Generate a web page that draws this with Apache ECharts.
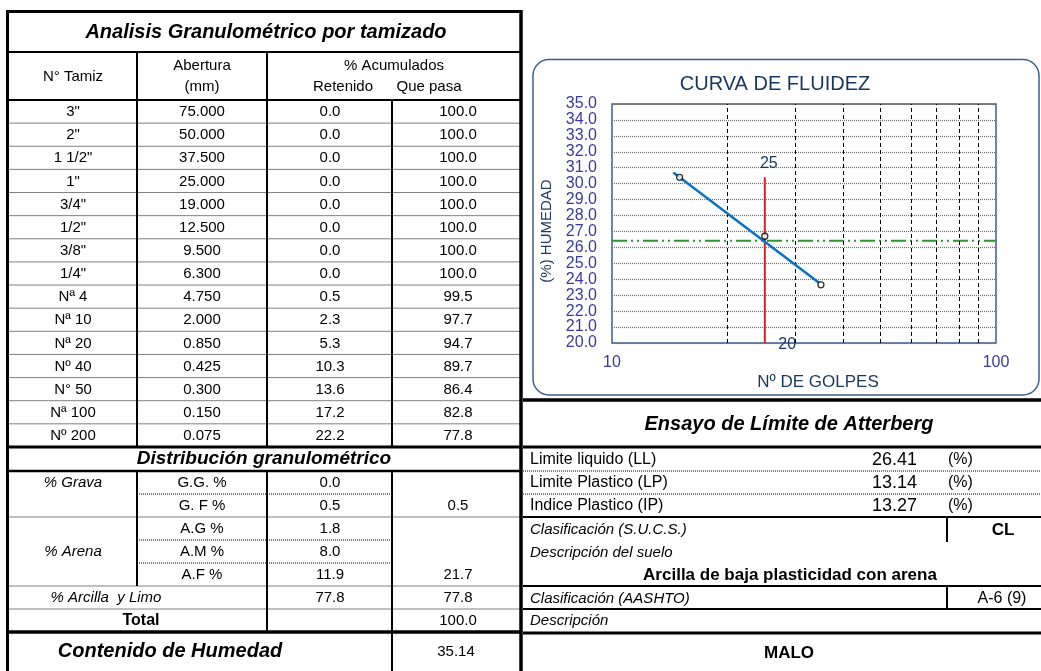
<!DOCTYPE html>
<html>
<head>
<meta charset="utf-8">
<script src="https://cdn.jsdelivr.net/npm/echarts@6/dist/echarts.min.js"></script>
<style>
html,body{margin:0;padding:0;background:#fff;}
#main{width:1041px;height:671px;}
</style>
</head>
<body>
<div id="main"></div>
<script>
// ---------- DATA ----------
const tableTitle = 'Analisis Granulométrico por tamizado';
const sieveNames = ['3"','2"','1 1/2"','1"','3/4"','1/2"','3/8"','1/4"','Nª 4','Nª 10','Nª 20','Nº 40','N° 50','Nª 100','Nº 200'];
const apertures = ['75.000','50.000','37.500','25.000','19.000','12.500','9.500','6.300','4.750','2.000','0.850','0.425','0.300','0.150','0.075'];
const retained = ['0.0','0.0','0.0','0.0','0.0','0.0','0.0','0.0','0.5','2.3','5.3','10.3','13.6','17.2','22.2'];
const passing = ['100.0','100.0','100.0','100.0','100.0','100.0','100.0','100.0','99.5','97.7','94.7','89.7','86.4','82.8','77.8'];

const distTitle = 'Distribución granulométrico';
const distGroups = ['% Grava','','','% Arena',''];
const distLabels = ['G.G. %','G. F %','A.G %','A.M %','A.F %'];
const distValues = ['0.0','0.5','1.8','8.0','11.9'];
const distSums = ['','0.5','','','21.7'];
const finesLabel = '% Arcilla  y Limo';
const finesValues = ['77.8','77.8'];
const totalLabel = 'Total';
const totalValue = '100.0';
const moistureLabel = 'Contenido de Humedad';
const moistureValue = '35.14';

const attTitle = 'Ensayo de Límite de Atterberg';
const limitLabels = ['Limite liquido (LL)','Limite Plastico (LP)','Indice Plastico (IP)'];
const limitValues = ['26.41','13.14','13.27'];
const sucsLabel = 'Clasificación (S.U.C.S.)';
const sucsValue = 'CL';
const soilDescLabel = 'Descripción del suelo';
const soilDesc = 'Arcilla de baja plasticidad con arena';
const aashtoLabel = 'Clasificación (AASHTO)';
const aashtoValue = 'A-6 (9)';
const descLabel = 'Descripción';
const descValue = 'MALO';

// chart data
const chartTitle = 'CURVA DE FLUIDEZ';
const blows = [15, 25, 35];
const moisture = [30.4, 26.7, 23.65];
const trendBlows = [14.44, 34.66];
const trendMoisture = [30.7, 23.76];
const liquidLimit = 26.41;
const refBlows = 25;
const refLineY = [20, 30.4];
const refLabels = ['20', '25'];
const gridBlows = [20, 30, 40, 50, 60, 70, 80, 90];
const xName = 'Nº DE GOLPES';
const yName = '(%) HUMEDAD';

// ---------- LAYOUT HELPERS ----------
const FF = '"Liberation Sans", Arial, Helvetica, sans-serif';
function L(x1, y1, x2, y2, w, dash) {
  return {type:'line', silent:true, z:10,
    shape:{x1:x1, y1:y1, x2:x2, y2:y2},
    style:{stroke:'#000', lineWidth:w, lineDash:dash || null}};
}
function T(text, x, y, o) {
  o = o || {};
  return {type:'text', silent:true, z:11, x:x, y:y, rotation:o.rotation || 0,
    style:{text:text,
      font:(o.italic ? 'italic ' : '') + (o.bold ? 'bold ' : '') + (o.size || 15) + 'px ' + FF,
      fill:o.color || '#000', align:o.align || 'center', verticalAlign:'middle'}};
}
const DOT = [1, 1];
const BS = 15;   // body font size left table
const g = [];

// left table
const X0 = 7.5, X1 = 137, X2 = 267, X3 = 392, XR = 521;
const yTop = 11.5, yTitle = 52, yHead = 100, rowH = 23.13;
const yDataEnd = yHead + rowH * sieveNames.length;
const yDist = 471, dRowH = 23;
const yDistEnd = yDist + dRowH * 7;

g.push(L(X0, yTop, XR, yTop, 3));
g.push(L(X0, yTop - 1.5, X0, 671, 3));
g.push(L(XR, yTop - 1.5, XR, 671, 3.5));
g.push(T(tableTitle, 266, 32, {bold:true, italic:true, size:20}));
g.push(L(X0, yTitle, XR, yTitle, 2));
g.push(L(X1, yTitle, X1, yDataEnd, 2));
g.push(L(X2, yTitle, X2, yDataEnd, 2));
g.push(L(X3, yHead, X3, yDataEnd, 2));
g.push(L(X0, yHead, XR, yHead, 2));
g.push(T('N° Tamiz', 73, 77, {size:BS}));
g.push(T('Abertura', 202, 66, {size:BS}));
g.push(T('(mm)', 202, 87, {size:BS}));
g.push(T('% Acumulados', 394, 66, {size:BS}));
g.push(T('Retenido', 343, 87, {size:BS}));
g.push(T('Que pasa', 429, 87, {size:BS}));

for (let i = 0; i < sieveNames.length; i++) {
  const cy = yHead + rowH * i + rowH / 2 + 0.5;
  g.push(T(sieveNames[i], 73, cy, {size:BS}));
  g.push(T(apertures[i], 202, cy, {size:BS}));
  g.push(T(retained[i], 330, cy, {size:BS}));
  g.push(T(passing[i], 458, cy, {size:BS}));
  if (i < sieveNames.length - 1) {
    const ly = yHead + rowH * (i + 1);
    g.push(L(X0, ly, XR, ly, 1, DOT));
  }
}
g.push(L(X0, yDataEnd, XR, yDataEnd, 3));
g.push(T(distTitle, 264, (yDataEnd + yDist) / 2, {bold:true, italic:true, size:19}));
g.push(L(X0, yDist, XR, yDist, 2.5));

for (let i = 0; i < distLabels.length; i++) {
  const cy = yDist + dRowH * i + dRowH / 2 + 0.5;
  if (distGroups[i]) g.push(T(distGroups[i], 73, cy, {italic:true, size:BS}));
  g.push(T(distLabels[i], 202, cy, {size:BS}));
  g.push(T(distValues[i], 330, cy, {size:BS}));
  if (distSums[i]) g.push(T(distSums[i], 458, cy, {size:BS}));
}
// dist separators
[1, 3, 4].forEach(function (k) { const ly = yDist + dRowH * k; g.push(L(X1, ly, X3, ly, 1, DOT)); });
[2, 5, 6].forEach(function (k) { const ly = yDist + dRowH * k; g.push(L(X0, ly, XR, ly, 1, DOT)); });
g.push(L(X1, yDist, X1, yDist + dRowH * 5, 2));
g.push(L(X2, yDist, X2, yDistEnd, 2));
g.push(L(X3, yDist, X3, 671, 2));
const cyF = yDist + dRowH * 5.5 + 0.5, cyT = yDist + dRowH * 6.5 + 0.5;
g.push(T(finesLabel, 106, cyF, {italic:true, size:BS}));
g.push(T(finesValues[0], 330, cyF, {size:BS}));
g.push(T(finesValues[1], 458, cyF, {size:BS}));
g.push(T(totalLabel, 141, cyT, {bold:true, size:BS + 1}));
g.push(T(totalValue, 458, cyT, {size:BS}));
g.push(L(X0, yDistEnd, XR, yDistEnd, 3.5));
g.push(T(moistureLabel, 170, 651, {bold:true, italic:true, size:20}));
g.push(T(moistureValue, 456, 652, {size:BS}));

// right table
const RX0 = 523, RX1 = 1041, RV = 947;
g.push(L(RX0, 400, RX1, 400, 3.5));
g.push(T(attTitle, 789, 424, {bold:true, italic:true, size:20}));
g.push(L(RX0, 447, RX1, 447, 3));
const limY = [460, 483, 506];
for (let i = 0; i < 3; i++) {
  g.push(T(limitLabels[i], 530, limY[i], {align:'left', size:16}));
  g.push(T(limitValues[i], 917, limY[i], {align:'right', size:18}));
  g.push(T('(%)', 948, limY[i], {align:'left', size:16}));
}
g.push(L(RX0, 471, RX1, 471, 1, DOT));
g.push(L(RX0, 494, RX1, 494, 1, DOT));
g.push(L(RX0, 517, RX1, 517, 2));
g.push(T(sucsLabel, 530, 530, {align:'left', italic:true, size:15}));
g.push(L(RV, 517, RV, 542, 2));
g.push(T(sucsValue, 1003, 530, {bold:true, size:17}));
g.push(T(soilDescLabel, 530, 553, {align:'left', italic:true, size:15}));
g.push(T(soilDesc, 790, 575, {bold:true, size:17}));
g.push(L(RX0, 586, RX1, 586, 2));
g.push(T(aashtoLabel, 530, 599, {align:'left', italic:true, size:15}));
g.push(L(RV, 586, RV, 609, 2));
g.push(T(aashtoValue, 1002, 599, {size:16}));
g.push(L(RX0, 609, RX1, 609, 2));
g.push(T(descLabel, 530, 621, {align:'left', italic:true, size:15}));
g.push(L(RX0, 633, RX1, 633, 3));
g.push(T(descValue, 789, 653, {bold:true, size:17}));

// chart frame + texts
g.push({type:'rect', silent:true, z:1, shape:{x:533, y:59.5, width:506, height:335.5, r:16},
  style:{fill:'none', stroke:'#3D5F8E', lineWidth:1.5}});
g.push(T(chartTitle, 775, 84, {size:20, color:'#17375E'}));
g.push(T(xName, 818, 382, {size:17, color:'#17375E'}));
g.push(T(yName, 547, 231, {size:15, color:'#1F3864', rotation:Math.PI / 2}));

// ---------- CHART ----------
const chart = echarts.init(document.getElementById('main'), null, {renderer:'canvas'});
const option = {
  animation:false,
  grid:{left:612, top:104, width:384, height:239, show:true, borderColor:'#3D5F8E', borderWidth:1.5},
  xAxis:{type:'log', logBase:10, min:10, max:100,
    axisLine:{show:false}, axisTick:{show:false}, splitLine:{show:false},
    axisLabel:{color:'#3A3A9E', fontSize:16, margin:12, fontFamily:FF}},
  yAxis:{type:'value', min:20, max:35, interval:1,
    axisLine:{show:false}, axisTick:{show:false},
    axisLabel:{color:'#3A3A9E', fontSize:16, margin:15, fontFamily:FF,
      formatter:function (v) { return v.toFixed(1); }},
    splitLine:{lineStyle:{color:'#6f6f6f', width:1.2, type:[1, 1]}}},
  series:[
    {type:'line', name:'grid', data:[], silent:true,
      markLine:{silent:true, symbol:['none', 'none'], label:{show:false},
        lineStyle:{color:'#000', type:[4, 3], width:1},
        data:gridBlows.map(function (v) { return {xAxis:v}; })}},
    {type:'line', name:'LL', silent:true, showSymbol:false, z:3,
      data:[[10, liquidLimit], [100, liquidLimit]],
      lineStyle:{color:'#2E962E', width:2, type:[15, 4, 2, 4, 2, 4]}},
    {type:'line', name:'ref', silent:true, showSymbol:true, symbol:'circle', symbolSize:1, z:4,
      itemStyle:{color:'rgba(0,0,0,0)'},
      data:[
        {value:[refBlows, refLineY[0]], label:{position:'right', offset:[8, 2]}},
        {value:[refBlows, refLineY[1]], label:{position:'top', offset:[4, 0]}}
      ],
      lineStyle:{color:'#D02424', width:2},
      label:{show:true, fontSize:16, color:'#17375E', fontFamily:FF,
        formatter:function (p) { return refLabels[p.dataIndex]; }}},
    {type:'line', name:'trend', silent:true, showSymbol:false, z:5,
      data:[[trendBlows[0], trendMoisture[0]], [trendBlows[1], trendMoisture[1]]],
      lineStyle:{color:'#0A72C2', width:2.5}},
    {type:'scatter', name:'puntos', z:6, symbol:'circle', symbolSize:6,
      data:blows.map(function (b, i) { return [b, moisture[i]]; }),
      itemStyle:{color:'#fff', borderColor:'#000', borderWidth:1.3}}
  ],
  graphic:g
};
chart.setOption(option);
</script>
</body>
</html>
